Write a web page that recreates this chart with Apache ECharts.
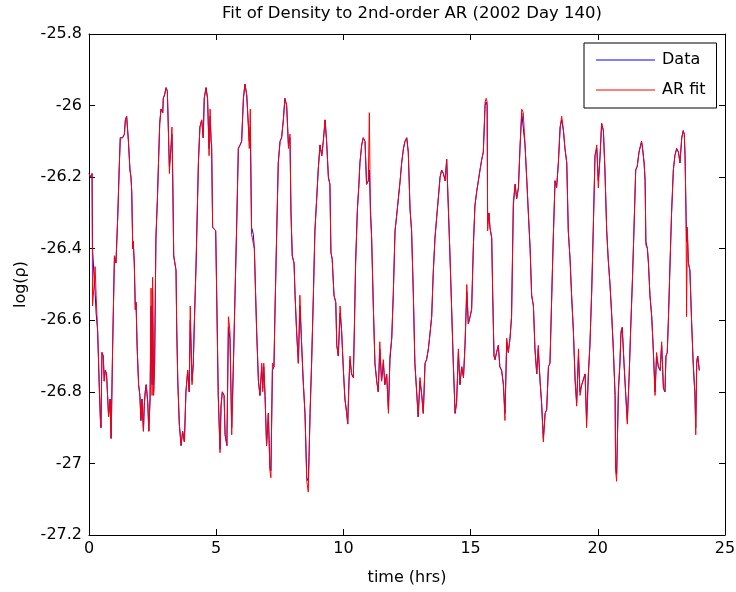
<!DOCTYPE html>
<html>
<head>
<meta charset="utf-8">
<script src="https://cdn.jsdelivr.net/npm/echarts@6/dist/echarts.min.js"></script>
<style>
html,body{margin:0;padding:0;background:#fff;}
#chart{width:736px;height:592px;}
</style>
</head>
<body>
<div id="chart"></div>
<script>
// time axis (hours)
var hours = [
0.00,0.07,0.12,0.14,0.20,0.24,0.28,0.34,0.41,0.45,
0.47,0.51,0.56,0.60,0.64,0.69,0.73,0.77,0.83,0.87,
0.93,1.00,1.06,1.13,1.19,1.23,1.32,1.39,1.43,1.48,
1.55,1.61,1.65,1.68,1.72,1.74,1.78,1.82,1.85,1.89,
1.95,2.00,2.04,2.08,2.14,2.17,2.21,2.25,2.31,2.35,
2.40,2.44,2.48,2.50,2.54,2.58,2.63,2.69,2.74,2.78,
2.83,2.90,2.92,2.97,3.03,3.08,3.11,3.16,3.22,3.26,
3.29,3.33,3.42,3.45,3.49,3.55,3.62,3.68,3.75,3.81,
3.88,3.94,3.98,4.05,4.10,4.14,4.21,
4.30,4.36,4.43,4.49,4.53,4.60,4.66,4.72,4.76,4.80,
4.82,4.86,4.93,4.98,5.02,5.08,5.15,5.19,5.24,5.31,
5.35,5.42,5.48,5.54,5.61,5.67,5.74,5.80,5.87,5.94,
6.00,6.07,6.13,6.20,6.26,6.30,6.34,6.39,6.46,6.50,
6.55,6.59,6.66,6.72,6.79,6.83,6.87,6.92,6.98,7.05,
7.11,7.15,7.21,7.27,7.31,7.38,7.44,7.51,7.57,7.64,
7.70,7.77,7.84,7.90,7.94,7.99,8.06,8.10,8.16,8.23,
8.29,8.36,8.42,8.49,8.56,8.62,8.65,8.69,8.75,8.82,
8.88,8.95,9.01,9.08,9.15,9.21,9.28,9.34,9.41,9.47,
9.51,9.56,9.63,9.70,9.74,9.80,9.87,9.93,10.00,10.06,
10.13,10.17,10.22,10.26,10.32,10.39,10.43,10.48,10.55,10.61,
10.65,10.72,10.78,10.85,10.91,10.98,11.02,11.06,11.11,11.18,
11.24,11.31,11.37,11.43,11.50,11.57,11.63,11.70,11.77,11.83,
11.90,11.96,12.03,12.09,12.16,12.23,12.29,12.36,12.42,12.49,
12.55,12.62,12.68,12.75,12.81,12.88,12.94,13.01,13.08,13.14,
13.21,13.27,13.34,13.40,13.47,13.53,13.60,13.67,13.73,13.80,
13.86,13.93,14.00,14.06,14.12,14.19,14.26,14.32,14.39,14.45,
14.52,14.58,14.65,14.72,14.78,14.85,14.91,14.98,15.04,15.11,
15.17,15.24,15.30,15.37,15.44,15.50,15.57,15.61,15.65,15.67,
15.72,15.76,15.83,15.87,15.92,15.96,16.02,16.09,16.15,16.22,
16.29,16.35,16.42,16.48,16.55,16.61,16.68,16.75,16.81,16.88,
16.94,17.01,17.07,17.14,17.21,17.27,17.34,17.40,17.47,17.53,
17.60,17.66,17.73,17.79,17.86,17.93,17.99,18.06,18.12,18.19,
18.25,18.32,18.38,18.45,18.52,18.58,18.65,18.71,18.78,18.84,
18.91,18.97,19.04,19.11,19.17,19.24,19.30,19.37,19.43,19.50,
19.56,19.63,19.69,19.76,19.82,19.89,19.96,20.02,20.09,20.15,
20.22,20.28,20.35,20.41,20.48,20.55,20.61,20.68,20.70,20.74,
20.81,20.87,20.91,20.96,21.03,21.10,21.16,21.23,21.29,21.36,
21.42,21.49,21.55,21.62,21.72,21.76,21.82,21.86,21.89,21.95,
21.99,22.05,22.12,22.18,22.25,22.29,22.31,22.38,22.45,22.51,
22.58,22.64,22.68,22.73,22.77,22.84,22.90,22.97,23.03,23.10,
23.17,23.23,23.30,23.36,23.40,23.43,23.47,23.49,23.52,23.56,
23.62,23.69,23.75,23.82,23.85,23.89,23.93,23.99
];
// measured log density
var density = [
-26.19,-26.20,-26.19,-26.40,-26.48,-26.52,-26.58,-26.63,-26.80,-26.88,
-26.90,-26.69,-26.70,-26.77,-26.74,-26.75,-26.81,-26.87,-26.82,-26.93,
-26.67,-26.42,-26.44,-26.31,-26.17,-26.09,-26.09,-26.08,-26.04,-26.03,
-26.10,-26.18,-26.20,-26.24,-26.40,-26.38,-26.44,-26.57,-26.55,-26.67,
-26.78,-26.81,-26.88,-26.82,-26.91,-26.84,-26.80,-26.78,-26.83,-26.91,
-26.82,-26.56,-26.78,-26.52,-26.80,-26.72,-26.37,-26.26,-26.14,-26.05,
-26.01,-26.02,-25.98,-25.97,-25.95,-25.96,-26.04,-26.17,-26.12,-26.08,
-26.19,-26.42,-26.46,-26.63,-26.77,-26.89,-26.95,-26.91,-26.94,-26.80,
-26.74,-26.80,-26.60,-26.77,-26.72,-26.61,-26.44,
-26.16,-26.06,-26.04,-26.09,-25.98,-25.95,-25.98,-26.12,-26.03,-26.10,
-26.11,-26.34,-26.34,-26.35,-26.53,-26.81,-26.96,-26.84,-26.80,-26.81,
-26.92,-26.95,-26.62,-26.65,-26.90,-26.74,-26.53,-26.35,-26.12,-26.11,
-26.10,-25.98,-25.94,-25.97,-26.05,-26.10,-26.06,-26.34,-26.36,-26.40,
-26.53,-26.63,-26.77,-26.81,-26.73,-26.79,-26.73,-26.81,-26.95,-26.86,
-27.01,-27.02,-26.74,-26.73,-26.58,-26.35,-26.16,-26.10,-26.09,-26.04,
-25.98,-26.00,-26.11,-26.09,-26.30,-26.42,-26.44,-26.53,-26.63,-26.72,
-26.56,-26.67,-26.77,-26.86,-27.04,-27.05,-26.98,-26.86,-26.72,-26.53,
-26.35,-26.26,-26.18,-26.11,-26.14,-26.10,-26.04,-26.10,-26.20,-26.22,
-26.41,-26.43,-26.53,-26.55,-26.67,-26.70,-26.58,-26.63,-26.74,-26.82,
-26.86,-26.89,-26.77,-26.71,-26.75,-26.76,-26.63,-26.44,-26.29,-26.22,
-26.16,-26.11,-26.09,-26.10,-26.22,-26.21,-26.18,-26.28,-26.37,-26.57,
-26.72,-26.77,-26.80,-26.68,-26.77,-26.72,-26.78,-26.75,-26.85,-26.71,
-26.65,-26.53,-26.35,-26.31,-26.26,-26.21,-26.16,-26.12,-26.10,-26.09,
-26.13,-26.29,-26.35,-26.53,-26.72,-26.80,-26.87,-26.77,-26.81,-26.86,
-26.72,-26.71,-26.68,-26.64,-26.59,-26.47,-26.37,-26.31,-26.26,-26.20,
-26.18,-26.19,-26.21,-26.15,-26.15,-26.42,-26.58,-26.72,-26.86,-26.83,
-26.69,-26.78,-26.73,-26.76,-26.67,-26.52,-26.61,-26.59,-26.57,-26.39,
-26.28,-26.24,-26.24,-26.18,-26.15,-26.13,-26.00,-25.99,-26.00,-26.33,
-26.30,-26.34,-26.37,-26.53,-26.70,-26.71,-26.69,-26.67,-26.73,-26.74,
-26.78,-26.86,-26.66,-26.69,-26.65,-26.59,-26.28,-26.22,-26.26,-26.23,
-26.12,-26.02,-26.02,-26.11,-26.21,-26.30,-26.40,-26.53,-26.56,-26.68,
-26.75,-26.68,-26.77,-26.83,-26.93,-26.86,-26.85,-26.73,-26.72,-26.53,
-26.37,-26.21,-26.23,-26.16,-26.06,-26.04,-26.07,-26.12,-26.16,-26.35,
-26.43,-26.53,-26.63,-26.77,-26.83,-26.70,-26.80,-26.78,-26.78,-26.75,
-26.88,-26.75,-26.67,-26.52,-26.35,-26.14,-26.12,-26.21,-26.14,-26.05,
-26.07,-26.18,-26.35,-26.43,-26.50,-26.59,-26.68,-26.81,-27.01,-27.03,
-26.80,-26.72,-26.64,-26.62,-26.72,-26.81,-26.88,-26.76,-26.63,-26.49,
-26.35,-26.18,-26.17,-26.13,-26.10,-26.12,-26.16,-26.21,-26.38,-26.40,
-26.44,-26.53,-26.59,-26.68,-26.80,-26.80,-26.70,-26.73,-26.74,-26.67,
-26.79,-26.80,-26.70,-26.69,-26.61,-26.44,-26.30,-26.18,-26.14,-26.12,
-26.13,-26.16,-26.09,-26.07,-26.08,-26.14,-26.31,-26.38,-26.36,-26.44,
-26.46,-26.61,-26.72,-26.81,-26.90,-26.72,-26.70,-26.74
];
// one-step-ahead prediction of the 2nd-order AR model
var arFit = [
-26.19,-26.20,-26.19,-26.56,-26.50,-26.45,-26.53,-26.63,-26.80,-26.88,
-26.90,-26.69,-26.70,-26.77,-26.74,-26.75,-26.81,-26.87,-26.82,-26.93,
-26.67,-26.42,-26.44,-26.31,-26.17,-26.09,-26.09,-26.08,-26.04,-26.03,
-26.10,-26.18,-26.20,-26.24,-26.40,-26.38,-26.44,-26.57,-26.55,-26.67,
-26.78,-26.81,-26.88,-26.82,-26.91,-26.84,-26.80,-26.78,-26.83,-26.91,
-26.82,-26.51,-26.81,-26.48,-26.81,-26.72,-26.37,-26.26,-26.14,-26.05,
-26.01,-26.02,-25.98,-25.97,-25.95,-25.96,-26.04,-26.19,-26.12,-26.06,
-26.19,-26.42,-26.46,-26.63,-26.77,-26.89,-26.95,-26.91,-26.94,-26.80,
-26.74,-26.80,-26.56,-26.78,-26.72,-26.61,-26.44,
-26.16,-26.06,-26.04,-26.09,-25.98,-25.95,-25.98,-26.14,-26.01,-26.10,
-26.11,-26.34,-26.34,-26.35,-26.53,-26.81,-26.97,-26.84,-26.80,-26.81,
-26.92,-26.95,-26.59,-26.63,-26.92,-26.74,-26.53,-26.35,-26.12,-26.11,
-26.10,-25.98,-25.94,-25.97,-26.05,-26.12,-26.01,-26.36,-26.36,-26.40,
-26.53,-26.63,-26.77,-26.81,-26.72,-26.80,-26.72,-26.81,-26.95,-26.86,
-27.02,-27.04,-26.72,-26.73,-26.58,-26.35,-26.16,-26.10,-26.09,-26.04,
-25.98,-26.00,-26.12,-26.08,-26.30,-26.42,-26.44,-26.53,-26.63,-26.72,
-26.53,-26.67,-26.77,-26.86,-27.05,-27.08,-26.98,-26.86,-26.72,-26.53,
-26.35,-26.26,-26.18,-26.11,-26.14,-26.10,-26.04,-26.10,-26.20,-26.22,
-26.41,-26.43,-26.53,-26.55,-26.67,-26.70,-26.56,-26.63,-26.74,-26.82,
-26.86,-26.89,-26.77,-26.70,-26.75,-26.76,-26.63,-26.44,-26.29,-26.22,
-26.16,-26.11,-26.09,-26.10,-26.22,-26.21,-26.02,-26.30,-26.37,-26.57,
-26.72,-26.77,-26.80,-26.66,-26.77,-26.71,-26.78,-26.75,-26.86,-26.70,
-26.65,-26.53,-26.35,-26.31,-26.26,-26.21,-26.16,-26.12,-26.10,-26.09,
-26.13,-26.29,-26.35,-26.53,-26.72,-26.80,-26.87,-26.76,-26.81,-26.86,
-26.72,-26.71,-26.68,-26.64,-26.59,-26.47,-26.37,-26.31,-26.26,-26.20,
-26.18,-26.19,-26.21,-26.15,-26.15,-26.42,-26.58,-26.72,-26.86,-26.83,
-26.68,-26.78,-26.73,-26.76,-26.67,-26.50,-26.61,-26.59,-26.57,-26.39,
-26.28,-26.24,-26.24,-26.18,-26.15,-26.13,-25.99,-25.98,-25.99,-26.35,
-26.30,-26.34,-26.37,-26.53,-26.70,-26.71,-26.69,-26.67,-26.73,-26.74,
-26.78,-26.88,-26.65,-26.69,-26.65,-26.59,-26.27,-26.22,-26.26,-26.23,
-26.12,-26.01,-26.02,-26.11,-26.21,-26.30,-26.40,-26.53,-26.56,-26.68,
-26.75,-26.67,-26.77,-26.83,-26.94,-26.86,-26.85,-26.73,-26.72,-26.53,
-26.37,-26.21,-26.23,-26.16,-26.06,-26.03,-26.07,-26.12,-26.16,-26.35,
-26.43,-26.53,-26.63,-26.77,-26.84,-26.68,-26.81,-26.78,-26.78,-26.75,
-26.90,-26.75,-26.67,-26.52,-26.35,-26.14,-26.11,-26.23,-26.14,-26.05,
-26.07,-26.18,-26.35,-26.43,-26.50,-26.59,-26.68,-26.81,-27.02,-27.05,
-26.79,-26.72,-26.63,-26.62,-26.72,-26.81,-26.89,-26.76,-26.63,-26.49,
-26.35,-26.18,-26.17,-26.13,-26.10,-26.12,-26.16,-26.21,-26.39,-26.40,
-26.44,-26.53,-26.59,-26.68,-26.81,-26.81,-26.69,-26.73,-26.74,-26.66,
-26.79,-26.80,-26.70,-26.69,-26.61,-26.44,-26.30,-26.18,-26.14,-26.12,
-26.13,-26.16,-26.09,-26.07,-26.08,-26.14,-26.31,-26.59,-26.34,-26.44,
-26.46,-26.61,-26.72,-26.81,-26.92,-26.71,-26.70,-26.74
];
var xTicks = {min: 0, max: 25, interval: 5};
var yTicks = {min: -27.2, max: -25.8, interval: 0.2};

var FONT = 'DejaVu Sans';
var chart = echarts.init(document.getElementById('chart'), null, {renderer: 'canvas'});

function pairs(t, v){
	var out = [];
	for (var i = 0; i < t.length && i < v.length; i++) {
		out.push([t[i], v[i]]);
	}
	return out;
}
function yFmt(value){
	return String(parseFloat(value.toFixed(1)));
}
var axisLine = {show: true, onZero: false, lineStyle: {color: '#000', width: 1}};
var tick = {show: true, inside: true, length: 6, lineStyle: {color: '#000'}};

var option = {
	animation: false,
	backgroundColor: '#fff',
	title: {
		text: 'Fit of Density to 2nd-order AR (2002 Day 140)',
		left: 407,
		textAlign: 'center',
		top: 0,
		textStyle: {fontFamily: FONT, fontSize: 16.5, fontWeight: 'normal', color: '#000'}
	},
	legend: {
		data: ['Data', 'AR fit'],
		orient: 'vertical',
		left: 584,
		top: 43,
		icon: 'path://M0,0H59V1H0Z',
		itemWidth: 59,
		itemHeight: 14,
		itemGap: 14,
		padding: [9, 11, 10, 12],
		borderColor: '#000',
		borderWidth: 1,
		borderRadius: 0,
		backgroundColor: '#fff',
		textStyle: {fontFamily: FONT, fontSize: 16, color: '#000', padding: [0, 0, 0, 2]}
	},
	grid: {left: 89, right: 11, top: 34, bottom: 57, outerBoundsMode: 'none', containLabel: false},
	xAxis: [
		{
			type: 'value', min: xTicks.min, max: xTicks.max, interval: xTicks.interval,
			position: 'bottom',
			name: 'time (hrs)', nameLocation: 'middle', nameGap: 35,
			nameTextStyle: {fontFamily: FONT, fontSize: 16, color: '#000'},
			axisLine: axisLine, axisTick: tick,
			axisLabel: {fontFamily: FONT, fontSize: 16, color: '#000', margin: 6},
			splitLine: {show: false}
		},
		{
			type: 'value', min: xTicks.min, max: xTicks.max, interval: xTicks.interval,
			position: 'top',
			axisLine: axisLine, axisTick: tick,
			axisLabel: {show: false},
			splitLine: {show: false}
		}
	],
	yAxis: [
		{
			type: 'value', min: yTicks.min, max: yTicks.max, interval: yTicks.interval,
			position: 'left',
			name: 'log(ρ)', nameLocation: 'middle', nameGap: 60, nameRotate: 90,
			nameTextStyle: {fontFamily: FONT, fontSize: 16, color: '#000'},
			axisLine: axisLine, axisTick: tick,
			axisLabel: {fontFamily: FONT, fontSize: 16, color: '#000', margin: 7, formatter: yFmt},
			splitLine: {show: false}
		},
		{
			type: 'value', min: yTicks.min, max: yTicks.max, interval: yTicks.interval,
			position: 'right',
			axisLine: axisLine, axisTick: tick,
			axisLabel: {show: false},
			splitLine: {show: false}
		}
	],
	series: [
		{
			name: 'Data',
			type: 'line',
			data: pairs(hours, density),
			symbol: 'none',
			lineStyle: {color: '#0000ff', width: 1},
			itemStyle: {color: '#0000ff'}
		},
		{
			name: 'AR fit',
			type: 'line',
			data: pairs(hours, arFit),
			symbol: 'none',
			lineStyle: {color: '#ff0000', width: 1},
			itemStyle: {color: '#ff0000'}
		}
	]
};
chart.setOption(option);
</script>
</body>
</html>
